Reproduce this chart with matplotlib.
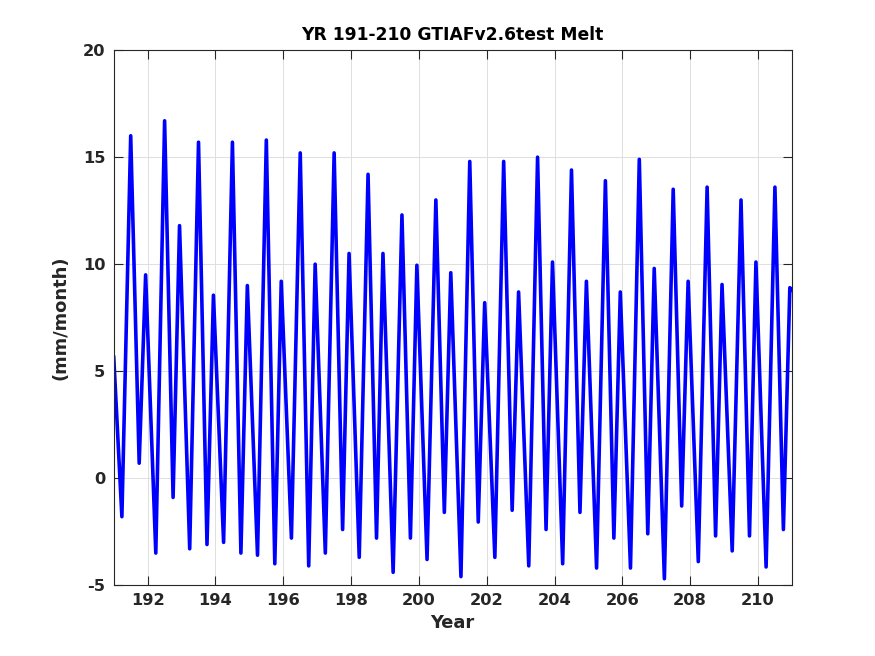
import numpy as np
import matplotlib
matplotlib.use("Agg")
import matplotlib.pyplot as plt

plt.rcParams['axes.unicode_minus'] = False

# model years 191..210 (mm/month)
years = list(range(191, 211))

# low point ~ a quarter into the year
trough_a = [-1.8, -3.5, -3.3, -3.0, -3.6, -2.8, -3.5, -3.7, -4.4, -3.8,
            -4.6, -3.7, -4.1, -4.0, -4.2, -4.2, -4.7, -3.9, -3.4, -4.15]
# main melt peak, mid year
peak_main = [16.0, 16.7, 15.7, 15.7, 15.8, 15.2, 15.2, 14.2, 12.3, 13.0,
             14.8, 14.8, 15.0, 14.4, 13.9, 14.9, 13.5, 13.6, 13.0, 13.6]
# low point after main peak
trough_b = [0.7, -0.9, -3.1, -3.5, -4.0, -4.1, -2.4, -2.8, -2.8, -1.6,
            -2.05, -1.5, -2.4, -1.6, -2.8, -2.6, -1.3, -2.7, -2.7, -2.4]
# secondary peak near year end
peak_sec = [9.5, 11.8, 8.55, 9.0, 9.2, 10.0, 10.5, 10.5, 9.95, 9.6,
            8.2, 8.7, 10.1, 9.2, 8.7, 9.8, 9.2, 9.05, 10.1, 8.9]

# time of each feature within the year (fraction of a year)
phase = [0.24, 0.50, 0.75, 0.94]

start_val = 5.65
end_val = 8.8

# ----------------------------------------------------------------

t = [191.0]
v = [start_val]
for i, yr in enumerate(years):
    vals = [trough_a[i], peak_main[i], trough_b[i], peak_sec[i]]
    for p, val in zip(phase, vals):
        t.append(yr + p)
        v.append(val)
t.append(211.0)
v.append(end_val)

txt_col = '#262626'

fig = plt.figure(figsize=(8.75, 6.56), dpi=100)
ax = fig.add_axes([0.13, 0.108, 0.775, 0.8155])

ax.plot(t, v, color='#0000ff', lw=2.6)

ax.set_xlim(191, 211)
ax.set_ylim(-5, 20)
ax.set_xticks(np.arange(192, 211, 2))
ax.set_yticks(np.arange(-5, 21, 5))

ax.grid(True, color='#dfdfdf', lw=0.7)
ax.set_axisbelow(True)

ax.tick_params(direction='in', length=6.5, width=0.8, top=True, right=True,
               colors=txt_col, labelsize=11.7, pad=6)
for lab in ax.get_xticklabels() + ax.get_yticklabels():
    lab.set_fontweight('bold')
for s in ax.spines.values():
    s.set_color(txt_col)
    s.set_linewidth(0.8)

ax.set_title('YR 191-210 GTIAFv2.6test Melt', fontsize=12.3, fontweight='bold', pad=7)
ax.set_xlabel('Year', fontsize=12.9, fontweight='bold', color=txt_col, labelpad=4)
ax.set_ylabel('(mm/month)', fontsize=12.9, fontweight='bold', color=txt_col, labelpad=10)

fig.savefig('out.png', dpi=100)
